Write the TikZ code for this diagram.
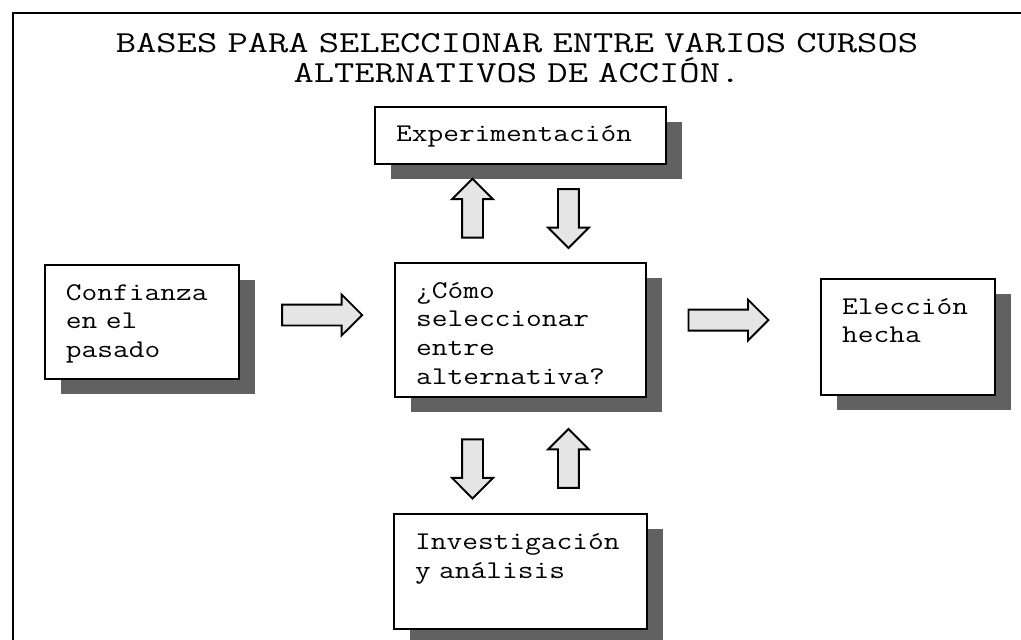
\documentclass[tikz,border=0pt]{standalone}
\usepackage{fontspec}
\newfontfamily\typefont{Latin Modern Mono}[FakeStretch=1.2]
\newfontfamily\headfont{Latin Modern Mono}[FakeStretch=1.29]
\usetikzlibrary{positioning,shapes.arrows,shadows}
\definecolor{Shade}{gray}{0.38}
\definecolor{Speck}{gray}{0.90}
\tikzset{
  stepbox/.style={
    draw=black, line width=1.3pt, fill=white, align=left,
    inner xsep=0.42cm, inner ysep=0.3cm, text height=0.4cm,
    font=\typefont\fontsize{14.5}{16.5}\selectfont,
    drop shadow={shadow xshift=0.32cm, shadow yshift=-0.3cm, fill=Shade, opacity=1}
  },
  title/.style={
    text width=20cm, align=center, inner sep=0pt,
    font=\headfont\fontsize{17.4}{17.1}\selectfont
  },
  blockarrow/.style={
    single arrow, draw=black, line width=1.1pt, fill=Speck,
    inner xsep=0pt, inner ysep=0.19cm,
    minimum width=0.8cm, single arrow head extend=0.2cm,
    single arrow tip angle=90
  },
  harrow/.style={blockarrow, minimum height=1.6cm},
  uparrow/.style={blockarrow, minimum height=1.18cm, rotate=90},
  downarrow/.style={blockarrow, minimum height=1.18cm, rotate=-90}
}
\begin{document}
\begin{tikzpicture}[x=0.02cm, y=-0.02cm]
    \path[use as bounding box, clip] (0,0) rectangle (1021,639);
    \draw[line width=1.2pt] (13,13) rectangle (1060,680);
    \node[title, anchor=base] (ttl) at (517,52)
      {BASES PARA SELECCIONAR ENTRE VARIOS CURSOS\\ALTERNATIVOS DE ACCIÓN.};
    % boxes
    \node[stepbox, text width=4.18cm, text depth=1.68cm] (mid) at (520.5,330)
      {¿Cómo\\seleccionar\\entre\\alternativa?};
    \node[stepbox, text width=4.98cm, text depth=0.14cm, above=1.94cm of mid] (exp)
      {Experimentación};
    \node[stepbox, text width=3.04cm, text depth=1.28cm, left=3.08cm of mid, yshift=0.16cm] (conf)
      {Confianza\\en el\\pasado};
    \node[stepbox, text width=2.64cm, text depth=1.32cm, right=3.46cm of mid, yshift=-0.14cm] (elec)
      {Elección\\hecha};
    \node[stepbox, text width=4.22cm, text depth=1.3cm, below=2.3cm of mid] (inv)
      {Investigación\\y análisis};
    % arrows
    \path (conf.east) -- node[harrow, yshift=0.22cm] (a1) {} (mid.west);
    \path (mid.east) -- node[harrow, pos=.44, yshift=0.26cm] (a2) {} (elec.west);
    \path ([xshift=-0.96cm]mid.north) -- node[uparrow] (a3) {} ([xshift=-0.96cm]exp.south);
    \path ([xshift=0.96cm]exp.south) -- node[downarrow] (a4) {} ([xshift=0.96cm]mid.north);
    \path ([xshift=-0.96cm]mid.south) -- node[downarrow, pos=.57] (a5) {} ([xshift=-0.96cm]inv.north);
    \path ([xshift=0.96cm]mid.south) -- node[uparrow, pos=.57] (a6) {} ([xshift=0.96cm]inv.north);
\end{tikzpicture}
\end{document}
